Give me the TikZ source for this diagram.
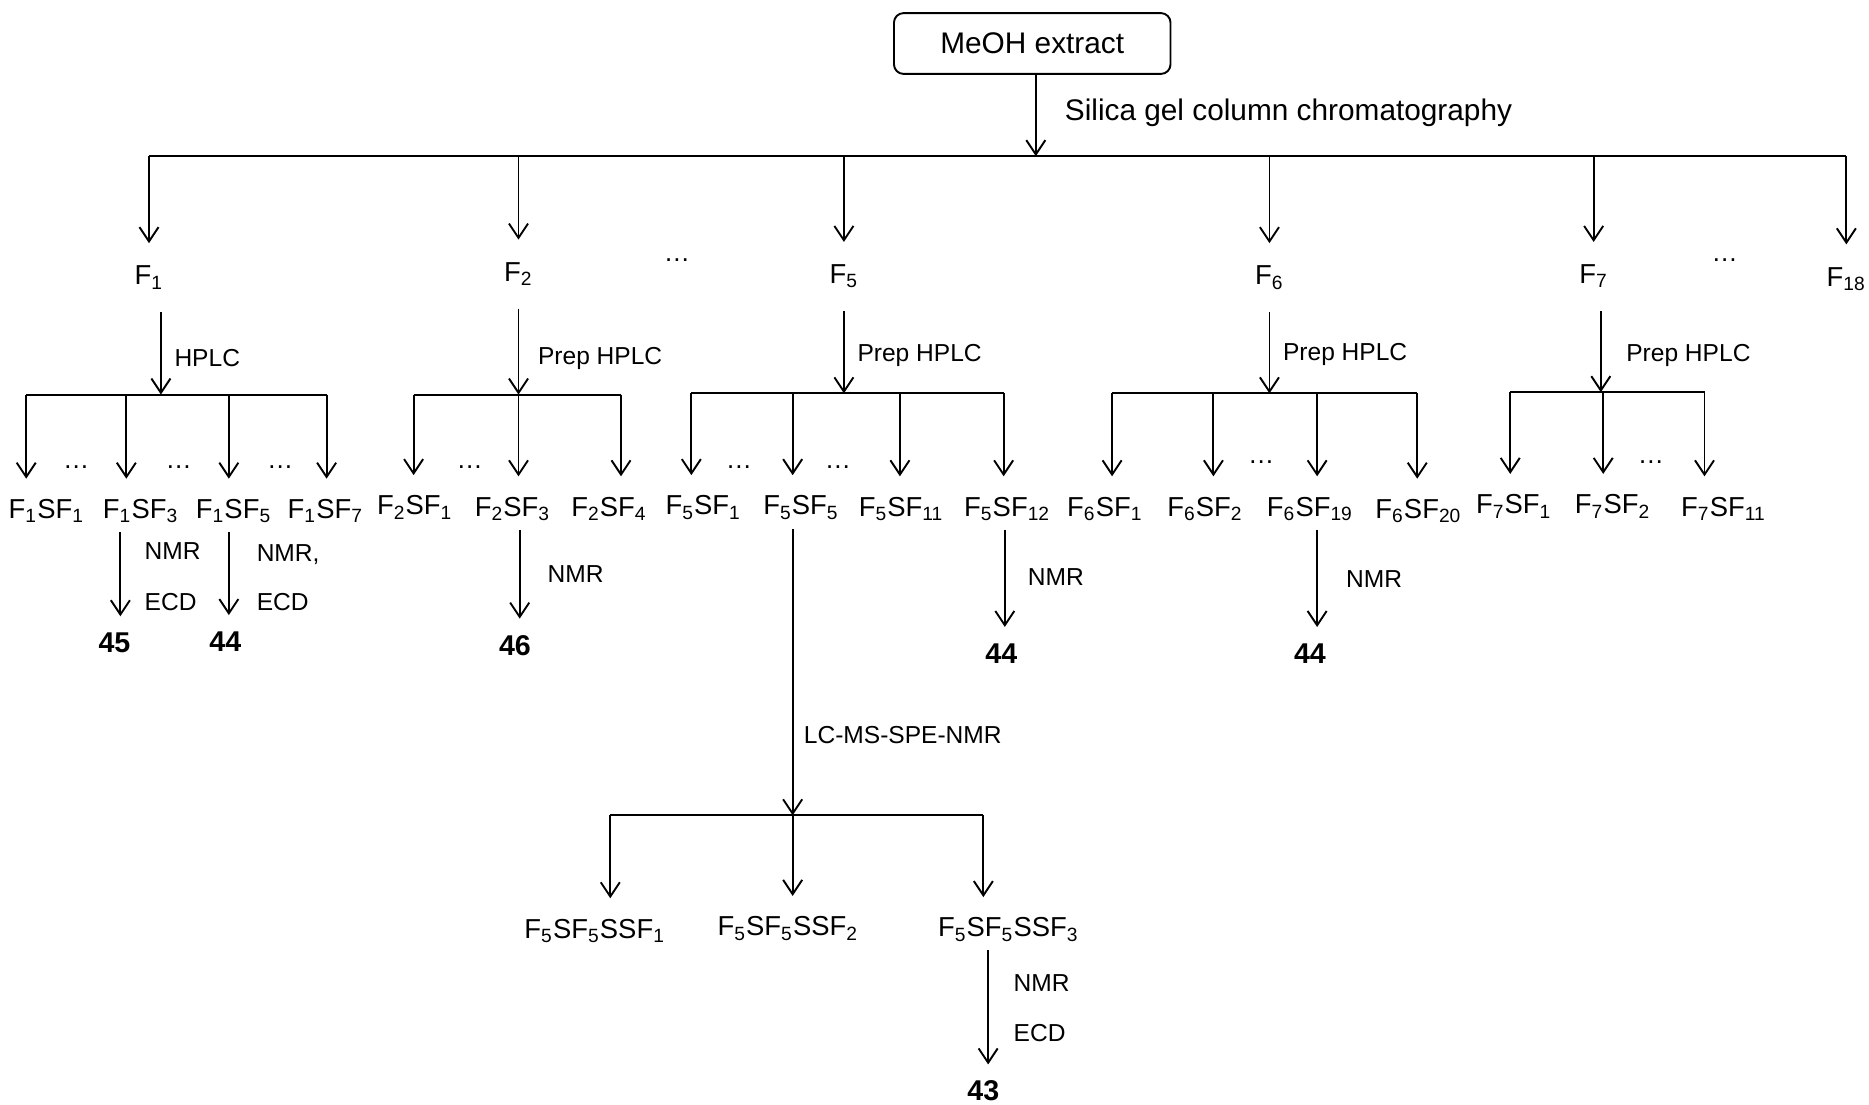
\documentclass[tikz,border=0pt]{standalone}
\usepackage{fontspec}
\setmainfont{Liberation Sans}
\usetikzlibrary{arrows.meta}
\newcommand\ssb[1]{\textsubscript{#1}}
\begin{document}
\begin{tikzpicture}[x=0.5pt,y=-0.5pt,
  arr/.style={-{Straight Barb[length=6pt,width=8pt]}, line width=0.8pt},
  ln/.style={line width=0.8pt},
  lab/.style={anchor=west, inner sep=0pt, font=\fontsize{10.3}{12}\selectfont},
  fl/.style={inner xsep=1pt, inner ysep=9pt, text height=8.3pt, text depth=2.3pt, font=\fontsize{11.5}{13}\selectfont},
  sfl/.style={fl, inner ysep=8.2pt},
  num/.style={inner xsep=1pt, inner ysep=6.5pt, text height=8.6pt, text depth=0pt, font=\fontsize{12}{14}\selectfont\bfseries},
  dts/.style={font=\fontsize{11}{13}\selectfont, inner sep=0pt},
  up/.style={shorten <=-5pt}]
\useasboundingbox (0,0) rectangle (1568,927);

% top
\node[draw, rounded corners=4pt, line width=0.8pt, minimum width=116pt, minimum height=25.5pt, inner sep=0pt, font=\fontsize{12.5}{15}\selectfont] (meoh) at (866,36.5) {MeOH extract};
\coordinate (m0) at (869,131);
\draw[arr] (meoh.south -| m0) -- (m0);
\node[lab, font=\fontsize{12.5}{15}\selectfont] (silica) at (893,95) {Silica gel column chromatography};

% first level
\node[fl] (f1) at (125,233) {F\ssb{1}};
\node[fl] (f2) at (435,230) {F\ssb{2}};
\node[dts] (d0a) at (568,218) {…};
\node[fl] (f5) at (708,232) {F\ssb{5}};
\node[fl] (f6) at (1065,233) {F\ssb{6}};
\node[fl] (f7) at (1337,232) {F\ssb{7}};
\node[dts] (d0b) at (1447,218) {…};
\node[fl] (f18) at (1549,234) {F\ssb{18}};
\draw[ln] (f1 |- m0) -- (f18 |- m0);
\foreach \n in {f1,f2,f5,f6,f7,f18} \draw[arr] (\n |- m0) -- (\n.north);

% F1 branch
\coordinate (j1) at (135,331);
\draw[arr] (f1.south -| j1) -- (j1);
\node[lab] (hplc1) at (146,300) {HPLC};
\coordinate (c11) at (22,331);
\coordinate (c13) at (106,331);
\coordinate (c15) at (192,331);
\coordinate (c17) at (274,331);
\draw[ln] (c11) -- (c17);
\node[sfl] (f1sf1) at (39,429) {F\ssb{1}SF\ssb{1}};
\node[sfl] (f1sf3) at (118,429) {F\ssb{1}SF\ssb{3}};
\node[sfl] (f1sf5) at (196,429) {F\ssb{1}SF\ssb{5}};
\node[sfl] (f1sf7) at (273,429) {F\ssb{1}SF\ssb{7}};
\draw[arr] (c11) -- (c11 |- f1sf1.north);
\draw[arr] (c13) -- (c13 |- f1sf3.north);
\draw[arr] (c15) -- (c15 |- f1sf5.north);
\draw[arr] (c17) -- (c17 |- f1sf7.north);
\node[dts] (d1a) at (64,392) {…};
\node[dts] (d1b) at (150,392) {…};
\node[dts] (d1c) at (235,392) {…};
\node[num] (n45) at (96,539) {45};
\node[num] (n44a) at (189,538) {44};
\coordinate (v13) at (101,0);
\coordinate (v15) at (192,0);
\draw[arr, up] (f1sf3.south -| v13) -- (n45.north -| v13);
\draw[arr, up] (f1sf5.south -| v15) -- (n44a.north -| v15);
\node[lab] (nmr1) at (121,462) {NMR};
\node[lab] (ecd1) at (121,505) {ECD};
\node[lab] (nmr2) at (215,465) {NMR,};
\node[lab] (ecd2) at (215,505) {ECD};

% F2 branch
\coordinate (j2) at (435,331);
\draw[arr] (f2.south -| j2) -- (j2);
\node[lab] (hplc2) at (451,301) {Prep HPLC};
\coordinate (c21) at (347,331);
\coordinate (c23) at (435,331);
\coordinate (c24) at (521,331);
\draw[ln] (c21) -- (c24);
\node[sfl] (f2sf1) at (348,426) {F\ssb{2}SF\ssb{1}};
\node[sfl] (f2sf3) at (430,427) {F\ssb{2}SF\ssb{3}};
\node[sfl] (f2sf4) at (511,427) {F\ssb{2}SF\ssb{4}};
\draw[arr] (c21) -- (c21 |- f2sf1.north);
\draw[arr] (c23) -- (c23 |- f2sf3.north);
\draw[arr] (c24) -- (c24 |- f2sf4.north);
\node[dts] (d2a) at (394,392) {…};
\node[num] (n46) at (432,541) {46};
\coordinate (v23) at (436,0);
\draw[arr, up] (f2sf3.south -| v23) -- (n46.north -| v23);
\node[lab] (nmr3) at (459,482) {NMR};

% F5 branch
\coordinate (j5) at (708,330);
\draw[arr] (f5.south -| j5) -- (j5);
\node[lab] (hplc5) at (719,298) {Prep HPLC};
\coordinate (c51) at (580,330);
\coordinate (c55) at (665,330);
\coordinate (c511) at (755,330);
\coordinate (c512) at (842,330);
\draw[ln] (c51) -- (c512);
\node[sfl] (f5sf1) at (590,426) {F\ssb{5}SF\ssb{1}};
\node[sfl] (f5sf5) at (672,426) {F\ssb{5}SF\ssb{5}};
\node[sfl] (f5sf11) at (756,427) {F\ssb{5}SF\ssb{11}};
\node[sfl] (f5sf12) at (845,427) {F\ssb{5}SF\ssb{12}};
\draw[arr] (c51) -- (c51 |- f5sf1.north);
\draw[arr] (c55) -- (c55 |- f5sf5.north);
\draw[arr] (c511) -- (c511 |- f5sf11.north);
\draw[arr] (c512) -- (c512 |- f5sf12.north);
\node[dts] (d5a) at (620,392) {…};
\node[dts] (d5b) at (703,392) {…};
\node[num] (n44b) at (840,548) {44};
\coordinate (v512) at (843,0);
\draw[arr, up] (f5sf12.south -| v512) -- (n44b.north -| v512);
\node[lab] (nmr4) at (862,484) {NMR};

% F5SF5 sub-branch
\coordinate (j55) at (665,684);
\draw[arr, up] (f5sf5.south -| j55) -- (j55);
\node[lab] (lcms) at (674,617) {LC-MS-SPE-NMR};
\coordinate (s1) at (512,684);
\coordinate (s2) at (665,684);
\coordinate (s3) at (825,684);
\draw[ln] (s1) -- (s3);
\node[sfl] (ssf1) at (499,781) {F\ssb{5}SF\ssb{5}SSF\ssb{1}};
\node[sfl] (ssf2) at (661,779) {F\ssb{5}SF\ssb{5}SSF\ssb{2}};
\node[sfl] (ssf3) at (846,780) {F\ssb{5}SF\ssb{5}SSF\ssb{3}};
\draw[arr] (s1) -- (s1 |- ssf1.north);
\draw[arr] (s2) -- (s2 |- ssf2.north);
\draw[arr] (s3) -- (s3 |- ssf3.north);
\node[num] (n43) at (825,915) {43};
\coordinate (v3) at (829,0);
\draw[arr, up] (ssf3.south -| v3) -- (n43.north -| v3);
\node[lab] (nmr5) at (850,825) {NMR};
\node[lab] (ecd5) at (850,867) {ECD};

% F6 branch
\coordinate (j6) at (1065,330);
\draw[arr] (f6.south -| j6) -- (j6);
\node[lab] (hplc6) at (1076,297) {Prep HPLC};
\coordinate (c61) at (933,330);
\coordinate (c62) at (1018,330);
\coordinate (c619) at (1105,330);
\coordinate (c620) at (1189,330);
\draw[ln] (c61) -- (c620);
\node[sfl] (f6sf1) at (927,427) {F\ssb{6}SF\ssb{1}};
\node[sfl] (f6sf2) at (1011,427) {F\ssb{6}SF\ssb{2}};
\node[sfl] (f6sf19) at (1099,427) {F\ssb{6}SF\ssb{19}};
\node[sfl] (f6sf20) at (1190,429) {F\ssb{6}SF\ssb{20}};
\draw[arr] (c61) -- (c61 |- f6sf1.north);
\draw[arr] (c62) -- (c62 |- f6sf2.north);
\draw[arr] (c619) -- (c619 |- f6sf19.north);
\draw[arr] (c620) -- (c620 |- f6sf20.north);
\node[dts] (d6a) at (1058,388) {…};
\node[num] (n44c) at (1099,548) {44};
\coordinate (v619) at (1105,0);
\draw[arr, up] (f6sf19.south -| v619) -- (n44c.north -| v619);
\node[lab] (nmr6) at (1129,486) {NMR};

% F7 branch
\coordinate (j7) at (1343,329);
\draw[arr] (f7.south -| j7) -- (j7);
\node[lab] (hplc7) at (1364,298) {Prep HPLC};
\coordinate (c71) at (1267,329);
\coordinate (c72) at (1345,329);
\coordinate (c711) at (1430,329);
\draw[ln] (c71) -- (c711);
\node[sfl] (f7sf1) at (1270,425) {F\ssb{7}SF\ssb{1}};
\node[sfl] (f7sf2) at (1353,425) {F\ssb{7}SF\ssb{2}};
\node[sfl] (f7sf11) at (1446,427) {F\ssb{7}SF\ssb{11}};
\draw[arr] (c71) -- (c71 |- f7sf1.north);
\draw[arr] (c72) -- (c72 |- f7sf2.north);
\draw[arr] (c711) -- (c711 |- f7sf11.north);
\node[dts] (d7a) at (1385,388) {…};
\end{tikzpicture}
\end{document}
